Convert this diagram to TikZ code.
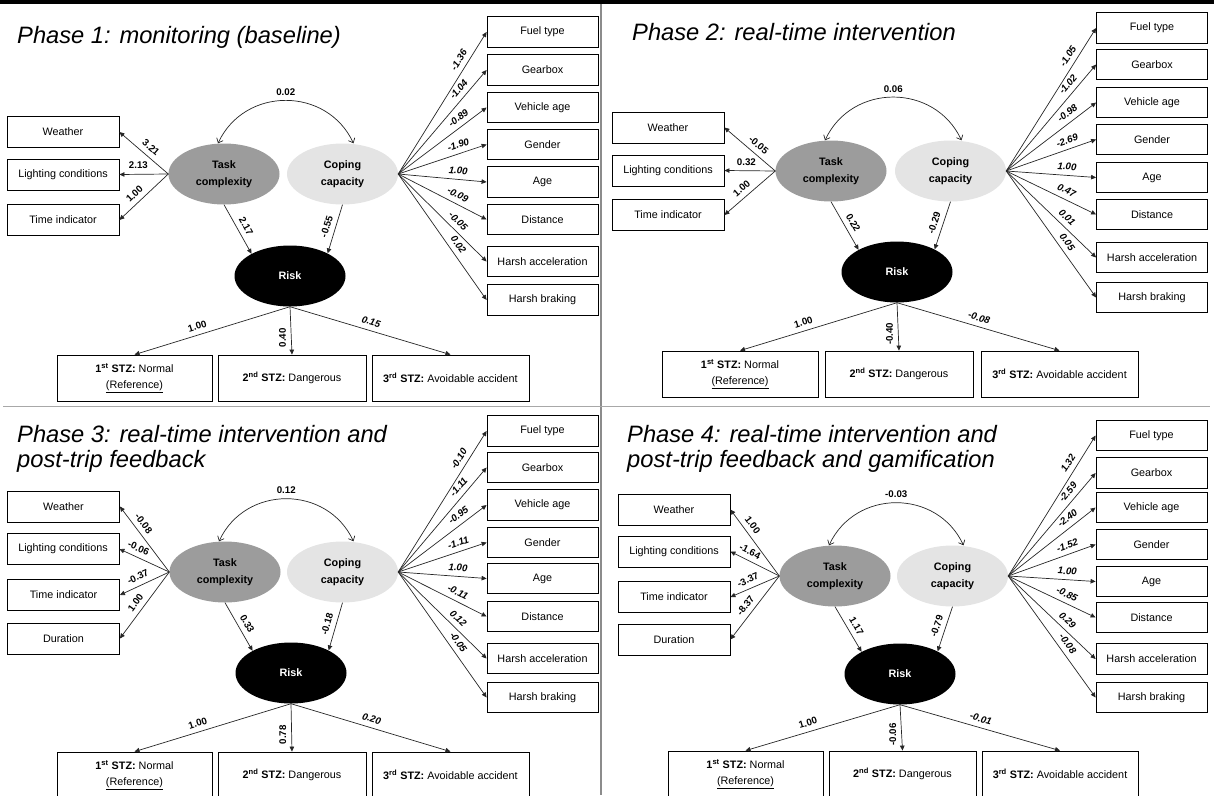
\documentclass[tikz,border=0pt]{standalone}
\usepackage{fontspec}
\setmainfont{Liberation Sans}
\usetikzlibrary{arrows.meta,shapes.geometric,calc}
\definecolor{tcgray}{HTML}{9C9C9C}
\definecolor{ccgray}{HTML}{E4E4E4}
\definecolor{linec}{HTML}{262626}
\definecolor{divv}{HTML}{8C8C8C}
\definecolor{divh}{HTML}{A8A8A8}
\begin{document}
\begin{tikzpicture}[x=1pt,y=1pt,
  rbox/.style={draw=black,line width=0.8pt,minimum width=112pt,minimum height=31pt,inner sep=0pt,font=\fontsize{10.8}{13}\selectfont},
  vbox/.style={rbox,minimum width=111pt,minimum height=30.5pt},
  obox/.style={draw=black,line width=0.8pt,minimum height=46pt,inner sep=0pt,align=center,font=\fontsize{10.8}{16.5}\selectfont},
  lat/.style={ellipse,minimum width=111pt,minimum height=61pt,inner sep=0pt,align=center,font=\fontsize{10.8}{16.5}\selectfont\bfseries},
  task/.style={lat,fill=tcgray},
  cope/.style={lat,fill=ccgray},
  riskn/.style={lat,fill=black,text=white},
  arr/.style={draw=linec,line width=0.7pt,-{Triangle[length=5pt,width=4.5pt]}},
  rarr/.style={draw=linec,line width=0.7pt,{Triangle[length=5pt,width=4.5pt]}-},
  carr/.style={draw=linec,line width=0.7pt,{Straight Barb[length=4pt,width=7pt]}-{Straight Barb[length=4pt,width=7pt]}},
  labf/.style={font=\fontsize{9.7}{11}\selectfont\bfseries,inner sep=1.5pt},
  lab/.style={labf,sloped,above=3.5pt},
  labi/.style={lab,font=\fontsize{9.7}{11}\selectfont\bfseries\itshape},
  labv/.style={labf,rotate=90,anchor=south,inner sep=5pt},
  ttl/.style={anchor=base west,inner sep=0pt,font=\fontsize{23.7}{25.5}\selectfont\itshape}
]
\useasboundingbox (0,0) rectangle (1214,-795);
\clip (0,0) rectangle (1214,-795);
\fill[black] (0,0) rectangle (1214,-4);
\draw[divv,line width=1.3pt] (601,-4) -- (601,-795);
\draw[divh,line width=1.3pt] (3,-406.5) -- (1210,-406.5);

% ---------------- Phase 1 ----------------
\node[ttl] (ttl1) at (17,-43) {Phase 1: monitoring (baseline)};
\node[rbox] (w1) at (63,-132) {Weather};
\node[rbox] (l1) at (63,-174.5) {Lighting conditions};
\node[rbox] (t1) at (63,-220) {Time indicator};
\node[task] (tc1) at (224,-174) {Task\\complexity};
\node[cope] (cc1) at (342.5,-174) {Coping\\capacity};
\node[riskn] (r1) at (290,-276) {Risk};
\node[vbox] (f1) at (542.5,-32) {Fuel type};
\node[vbox] (g1) at (542.5,-70) {Gearbox};
\node[vbox] (v1) at (542.5,-107.5) {Vehicle age};
\node[vbox] (s1) at (542.5,-144.5) {Gender};
\node[vbox] (a1) at (542.5,-182) {Age};
\node[vbox] (d1) at (542.5,-219.5) {Distance};
\node[vbox] (h1) at (542.5,-261.5) {Harsh acceleration};
\node[vbox] (b1) at (542.5,-300) {Harsh braking};
\node[obox,minimum width=155pt] (o1a) at (134.5,-378) {\textbf{1\textsuperscript{st} STZ:} Normal\\\underline{(Reference)}};
\node[obox,minimum width=148pt] (o1b) at (292,-378) {\textbf{2\textsuperscript{nd} STZ:} Dangerous};
\node[obox,minimum width=157pt] (o1c) at (450.5,-378) {\textbf{3\textsuperscript{rd} STZ:} Avoidable accident};
\draw[rarr] (w1.east) -- (tc1.west) node[lab,pos=0.53]{3.21};
\draw[rarr] (l1.east) -- (tc1.west) node[lab,pos=0.39]{2.13};
\draw[rarr] (t1.east) -- (tc1.west) node[lab,pos=0.43]{1.00};
\draw[carr] ([xshift=-6pt]tc1.north) to[out=65,in=115,looseness=1.19] node[labf,midway,above=3pt]{0.02} ([xshift=11pt]cc1.north);
\draw[arr] (tc1.south) -- (r1.150) node[lab,pos=0.53]{2.17};
\draw[rarr] (r1.31) -- (cc1.south) node[lab,pos=0.5]{-0.55};
\draw[arr] (cc1.east) -- (f1.west) node[labi,pos=0.77]{-1.36};
\draw[arr] (cc1.east) -- (g1.west) node[labi,pos=0.76]{-1.04};
\draw[arr] (cc1.east) -- (v1.west) node[labi,pos=0.74]{-0.89};
\draw[arr] (cc1.east) -- (s1.west) node[labi,pos=0.71]{-1.90};
\draw[arr] (cc1.east) -- (a1.west) node[labi,pos=0.67]{1.00};
\draw[arr] (cc1.east) -- (d1.west) node[labi,pos=0.63]{-0.09};
\draw[arr] (cc1.east) -- (h1.west) node[labi,pos=0.61]{-0.05};
\draw[arr] (cc1.east) -- (b1.west) node[labi,pos=0.60]{0.02};
\draw[rarr] (o1a.north) -- (r1.south) node[lab,pos=0.42]{1.00};
\draw[rarr] (o1b.north) -- (r1.south) node[labv,pos=0.35]{0.40};
\draw[arr] (r1.south) -- (o1c.north) node[labi,pos=0.49]{0.15};

% ---------------- Phase 2 ----------------
\node[ttl] (ttl2) at (632,-40) {Phase 2: real-time intervention};
\node[rbox] (w2) at (668,-127.5) {Weather};
\node[rbox] (l2) at (668,-170.5) {Lighting conditions};
\node[rbox] (t2) at (668,-215) {Time indicator};
\node[task] (tc2) at (831,-171) {Task\\complexity};
\node[cope] (cc2) at (950.5,-171) {Coping\\capacity};
\node[riskn] (r2) at (897,-272) {Risk};
\node[vbox] (f2) at (1152,-28) {Fuel type};
\node[vbox] (g2) at (1152,-64.5) {Gearbox};
\node[vbox] (v2) at (1152,-102.5) {Vehicle age};
\node[vbox] (s2) at (1152,-139.5) {Gender};
\node[vbox] (a2) at (1152,-177.5) {Age};
\node[vbox] (d2) at (1152,-214.5) {Distance};
\node[vbox] (h2) at (1152,-257.5) {Harsh acceleration};
\node[vbox] (b2) at (1152,-297.5) {Harsh braking};
\node[obox,minimum width=156pt] (o2a) at (740,-374) {\textbf{1\textsuperscript{st} STZ:} Normal\\\underline{(Reference)}};
\node[obox,minimum width=148pt] (o2b) at (899,-374) {\textbf{2\textsuperscript{nd} STZ:} Dangerous};
\node[obox,minimum width=157pt] (o2c) at (1059.5,-374) {\textbf{3\textsuperscript{rd} STZ:} Avoidable accident};
\draw[rarr] (w2.east) -- (tc2.west) node[lab,pos=0.56]{-0.05};
\draw[rarr] (l2.east) -- (tc2.west) node[lab,pos=0.43]{0.32};
\draw[rarr] (t2.east) -- (tc2.west) node[lab,pos=0.45]{1.00};
\draw[carr] ([xshift=-6pt]tc2.north) to[out=65,in=115,looseness=1.19] node[labf,midway,above=3pt]{0.06} ([xshift=11pt]cc2.north);
\draw[arr] (tc2.south) -- (r2.150) node[lab,pos=0.53]{0.22};
\draw[rarr] (r2.31) -- (cc2.south) node[lab,pos=0.5]{-0.29};
\draw[arr] (cc2.east) -- (f2.west) node[labi,pos=0.77]{-1.05};
\draw[arr] (cc2.east) -- (g2.west) node[labi,pos=0.76]{-1.02};
\draw[arr] (cc2.east) -- (v2.west) node[labi,pos=0.74]{-0.98};
\draw[arr] (cc2.east) -- (s2.west) node[labi,pos=0.71]{-2.69};
\draw[arr] (cc2.east) -- (a2.west) node[labi,pos=0.67]{1.00};
\draw[arr] (cc2.east) -- (d2.west) node[labi,pos=0.63]{0.47};
\draw[arr] (cc2.east) -- (h2.west) node[labi,pos=0.61]{0.01};
\draw[arr] (cc2.east) -- (b2.west) node[labi,pos=0.60]{0.05};
\draw[rarr] (o2a.north) -- (r2.south) node[lab,pos=0.42]{1.00};
\draw[rarr] (o2b.north) -- (r2.south) node[labv,pos=0.35]{-0.40};
\draw[arr] (r2.south) -- (o2c.north) node[labi,pos=0.49]{-0.08};

% ---------------- Phase 3 ----------------
\node[ttl] (ttl3a) at (17,-442) {Phase 3: real-time intervention and};
\node[ttl] (ttl3b) at (17,-467) {post-trip feedback};
\node[rbox] (w3) at (63.5,-506.5) {Weather};
\node[rbox] (l3) at (63,-549) {Lighting conditions};
\node[rbox] (t3) at (63.5,-595) {Time indicator};
\node[rbox] (u3) at (63.5,-638.5) {Duration};
\node[task] (tc3) at (225,-572) {Task\\complexity};
\node[cope] (cc3) at (342.5,-572) {Coping\\capacity};
\node[riskn] (r3) at (291,-673) {Risk};
\node[vbox] (f3) at (542.5,-431) {Fuel type};
\node[vbox] (g3) at (542.5,-467.5) {Gearbox};
\node[vbox] (v3) at (542.5,-505) {Vehicle age};
\node[vbox] (s3) at (542.5,-542.5) {Gender};
\node[vbox] (a3) at (542.5,-578.5) {Age};
\node[vbox] (d3) at (542.5,-616.5) {Distance};
\node[vbox] (h3) at (542.5,-658.5) {Harsh acceleration};
\node[vbox] (b3) at (542.5,-697.5) {Harsh braking};
\node[obox,minimum width=155pt] (o3a) at (134.5,-775) {\textbf{1\textsuperscript{st} STZ:} Normal\\\underline{(Reference)}};
\node[obox,minimum width=148pt] (o3b) at (292,-775) {\textbf{2\textsuperscript{nd} STZ:} Dangerous};
\node[obox,minimum width=157pt] (o3c) at (450.5,-775) {\textbf{3\textsuperscript{rd} STZ:} Avoidable accident};
\draw[rarr] (w3.east) -- (tc3.west) node[lab,pos=0.34]{-0.08};
\draw[rarr] (l3.east) -- (tc3.west) node[lab,pos=0.31]{-0.06};
\draw[rarr] (t3.east) -- (tc3.west) node[lab,pos=0.44]{-0.37};
\draw[rarr] (u3.east) -- (tc3.west) node[lab,pos=0.46]{1.00};
\draw[carr] ([xshift=-6pt]tc3.north) to[out=65,in=115,looseness=1.19] node[labf,midway,above=3pt]{0.12} ([xshift=11pt]cc3.north);
\draw[arr] (tc3.south) -- (r3.150) node[lab,pos=0.53]{0.33};
\draw[rarr] (r3.31) -- (cc3.south) node[lab,pos=0.5]{-0.18};
\draw[arr] (cc3.east) -- (f3.west) node[labi,pos=0.77]{-0.10};
\draw[arr] (cc3.east) -- (g3.west) node[labi,pos=0.76]{-1.11};
\draw[arr] (cc3.east) -- (v3.west) node[labi,pos=0.74]{-0.95};
\draw[arr] (cc3.east) -- (s3.west) node[labi,pos=0.71]{-1.11};
\draw[arr] (cc3.east) -- (a3.west) node[labi,pos=0.67]{1.00};
\draw[arr] (cc3.east) -- (d3.west) node[labi,pos=0.63]{-0.11};
\draw[arr] (cc3.east) -- (h3.west) node[labi,pos=0.61]{0.12};
\draw[arr] (cc3.east) -- (b3.west) node[labi,pos=0.60]{-0.05};
\draw[rarr] (o3a.north) -- (r3.south) node[lab,pos=0.42]{1.00};
\draw[rarr] (o3b.north) -- (r3.south) node[labv,pos=0.35]{0.78};
\draw[arr] (r3.south) -- (o3c.north) node[labi,pos=0.49]{0.20};

% ---------------- Phase 4 ----------------
\node[ttl] (ttl4a) at (627,-442) {Phase 4: real-time intervention and};
\node[ttl] (ttl4b) at (627,-467) {post-trip feedback and gamification};
\node[rbox] (w4) at (674,-509.5) {Weather};
\node[rbox] (l4) at (674,-551.5) {Lighting conditions};
\node[rbox] (t4) at (674,-597) {Time indicator};
\node[rbox] (u4) at (674,-639.5) {Duration};
\node[task] (tc4) at (835,-576) {Task\\complexity};
\node[cope] (cc4) at (952.5,-576) {Coping\\capacity};
\node[riskn] (r4) at (900,-674) {Risk};
\node[vbox] (f4) at (1151.5,-435.5) {Fuel type};
\node[vbox] (g4) at (1151.5,-473) {Gearbox};
\node[vbox] (v4) at (1151.5,-507.5) {Vehicle age};
\node[vbox] (s4) at (1151.5,-544.5) {Gender};
\node[vbox] (a4) at (1151.5,-581.5) {Age};
\node[vbox] (d4) at (1151.5,-617.5) {Distance};
\node[vbox] (h4) at (1151.5,-659) {Harsh acceleration};
\node[vbox] (b4) at (1151.5,-697.5) {Harsh braking};
\node[obox,minimum width=155pt] (o4a) at (745.5,-774) {\textbf{1\textsuperscript{st} STZ:} Normal\\\underline{(Reference)}};
\node[obox,minimum width=147pt] (o4b) at (902.5,-774) {\textbf{2\textsuperscript{nd} STZ:} Dangerous};
\node[obox,minimum width=156pt] (o4c) at (1060,-774) {\textbf{3\textsuperscript{rd} STZ:} Avoidable accident};
\draw[rarr] (w4.east) -- (tc4.west) node[lab,pos=0.31]{1.00};
\draw[rarr] (l4.east) -- (tc4.west) node[lab,pos=0.32]{-1.64};
\draw[rarr] (t4.east) -- (tc4.west) node[lab,pos=0.43]{-3.37};
\draw[rarr] (u4.east) -- (tc4.west) node[lab,pos=0.45]{-8.37};
\draw[carr] ([xshift=-6pt]tc4.north) to[out=65,in=115,looseness=1.19] node[labf,midway,above=3pt]{-0.03} ([xshift=11pt]cc4.north);
\draw[arr] (tc4.south) -- (r4.150) node[lab,pos=0.53]{1.17};
\draw[rarr] (r4.31) -- (cc4.south) node[lab,pos=0.5]{-0.79};
\draw[arr] (cc4.east) -- (f4.west) node[labi,pos=0.77]{1.32};
\draw[arr] (cc4.east) -- (g4.west) node[labi,pos=0.76]{-2.59};
\draw[arr] (cc4.east) -- (v4.west) node[labi,pos=0.74]{-2.40};
\draw[arr] (cc4.east) -- (s4.west) node[labi,pos=0.71]{-1.52};
\draw[arr] (cc4.east) -- (a4.west) node[labi,pos=0.67]{1.00};
\draw[arr] (cc4.east) -- (d4.west) node[labi,pos=0.63]{-0.85};
\draw[arr] (cc4.east) -- (h4.west) node[labi,pos=0.61]{0.29};
\draw[arr] (cc4.east) -- (b4.west) node[labi,pos=0.60]{-0.08};
\draw[rarr] (o4a.north) -- (r4.south) node[lab,pos=0.42]{1.00};
\draw[rarr] (o4b.north) -- (r4.south) node[labv,pos=0.35]{-0.06};
\draw[arr] (r4.south) -- (o4c.north) node[labi,pos=0.49]{-0.01};
\end{tikzpicture}
\end{document}
